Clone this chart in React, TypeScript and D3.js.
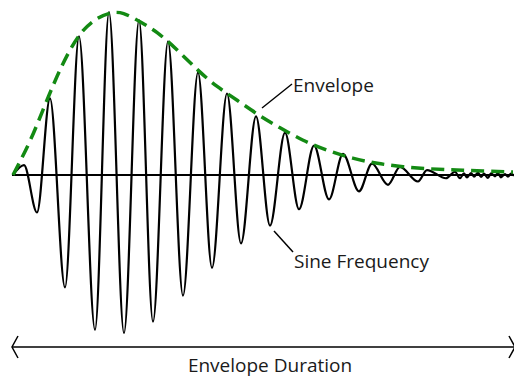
import { useEffect, useRef } from "react";
import * as d3 from "d3";

// extrema of the decaying sine (time, amplitude)
const waveTimes = [0, 11, 24, 37, 52, 66, 82, 96, 111, 126, 140, 155, 170, 185, 199, 214, 228, 243, 257, 272, 286, 301, 316, 330, 346, 359, 375, 387, 405, 414, 433, 442];
const waveValues = [0, 0.06, -0.23, 0.47, -0.69, 0.85, -0.95, 1.0, -0.97, 0.95, -0.9, 0.82, -0.74, 0.63, -0.57, 0.5, -0.42, 0.36, -0.31, 0.26, -0.21, 0.18, -0.15, 0.13, -0.1, 0.07, -0.06, 0.05, -0.04, 0.03, -0.02, 0.02];

// noisy tail after the ringing dies out
const tailTimes = [447, 451, 454, 458, 461, 465, 468, 471, 475, 478, 482, 485, 488, 492, 495, 498, 501];
const tailValues = [-0.02, 0.01, -0.015, 0.012, -0.01, 0.015, -0.012, 0.008, -0.018, 0.01, -0.008, 0.012, -0.014, 0.006, -0.01, 0.008, -0.005];

// envelope traced over the peaks
const envTimes = [0, 17, 30, 42, 55, 67, 80, 97, 110, 127, 144, 164, 185, 204, 224, 247, 267, 290, 314, 340, 364, 390, 417, 444, 469, 500];
const envValues = [0, 0.2, 0.4, 0.58, 0.75, 0.87, 0.95, 1.0, 1.0, 0.94, 0.88, 0.77, 0.64, 0.54, 0.46, 0.36, 0.29, 0.21, 0.15, 0.1, 0.07, 0.05, 0.037, 0.03, 0.025, 0.018];

export default function App() {
  const svgRef = useRef<SVGSVGElement | null>(null);

  useEffect(() => {
    if (!svgRef.current) return;
    const svg = d3.select(svgRef.current);
    svg.selectAll("*").remove();

    const width = 514;
    const height = 378;
    const font = "'Open Sans', 'Noto Sans', sans-serif";
    const textColor = "#1a1a1a";

    const x = d3.scaleLinear().domain([0, 500]).range([13, 513]);
    const y = d3.scaleLinear().domain([-1, 1]).range([338, 12]);

    svg.attr("width", width).attr("height", height);

    // baseline
    svg.append("line")
      .attr("x1", x(0) - 1).attr("x2", width)
      .attr("y1", y(0)).attr("y2", y(0))
      .attr("stroke", "#000").attr("stroke-width", 2);

    const wave: [number, number][] = waveTimes.map((t, i) => [t, waveValues[i]]);
    tailTimes.forEach((t, i) => wave.push([t, tailValues[i]]));

    const line = d3.line<[number, number]>()
      .x((d) => x(d[0]))
      .y((d) => y(d[1]))
      .curve(d3.curveMonotoneX);

    svg.append("path")
      .attr("d", line(wave)!)
      .attr("fill", "none")
      .attr("stroke", "#000")
      .attr("stroke-width", 2.2);

    const env: [number, number][] = envTimes.map((t, i) => [t, envValues[i]]);
    svg.append("path")
      .attr("d", line.curve(d3.curveBasis)(env)!)
      .attr("fill", "none")
      .attr("stroke", "#138a13")
      .attr("stroke-width", 3.5)
      .attr("stroke-dasharray", "13 7");

    // labels
    svg.append("line")
      .attr("x1", 262).attr("y1", 108).attr("x2", 292).attr("y2", 84)
      .attr("stroke", "#000").attr("stroke-width", 1.5);
    svg.append("text")
      .attr("x", 293).attr("y", 92)
      .attr("fill", textColor)
      .style("font-family", font).style("font-size", "19px")
      .text("Envelope");

    svg.append("line")
      .attr("x1", 274).attr("y1", 231).attr("x2", 293).attr("y2", 252)
      .attr("stroke", "#000").attr("stroke-width", 1.5);
    svg.append("text")
      .attr("x", 294).attr("y", 268)
      .attr("fill", textColor)
      .style("font-family", font).style("font-size", "19px")
      .text("Sine Frequency");

    // duration arrow
    const ay = 347;
    svg.append("line")
      .attr("x1", 12).attr("x2", width)
      .attr("y1", ay).attr("y2", ay)
      .attr("stroke", "#000").attr("stroke-width", 1.5);
    svg.append("path")
      .attr("d", `M18,${ay - 11} L12,${ay} L18,${ay + 11}`)
      .attr("fill", "none").attr("stroke", "#000").attr("stroke-width", 1.5);
    svg.append("path")
      .attr("d", `M509,${ay - 11} L515,${ay} L509,${ay + 11}`)
      .attr("fill", "none").attr("stroke", "#000").attr("stroke-width", 1.5);
    svg.append("text")
      .attr("x", 270).attr("y", 372)
      .attr("text-anchor", "middle")
      .attr("fill", textColor)
      .style("font-family", font).style("font-size", "19px")
      .text("Envelope Duration");
  }, []);

  return (
    <div style={{ position: "absolute", left: 0, top: 0, background: "#fff" }}>
      <svg ref={svgRef} style={{ display: "block" }} />
    </div>
  );
}
